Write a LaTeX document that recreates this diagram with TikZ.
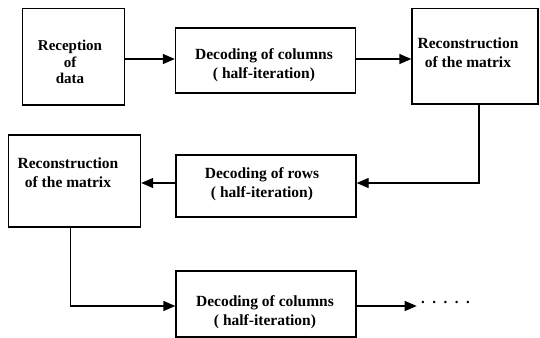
\documentclass[tikz,border=0pt]{standalone}
\usepackage{fontspec}
\setmainfont{Liberation Serif}
\usetikzlibrary{arrows.meta}
\begin{document}
\begin{tikzpicture}[x=1pt,y=-1pt,
  box/.style={draw, line width=1.4pt, inner sep=0pt},
  txt/.style={align=center, font=\bfseries\fontsize{15.5}{19}\selectfont, inner sep=0pt},
  conn/.style={line width=1.4pt, -{Triangle[length=12pt,width=10pt]}},
  wire/.style={line width=1.4pt}]
\useasboundingbox (0,0) rectangle (540,337);
% boxes
\node (b1) [box, minimum width=102pt, minimum height=96pt] at (73.7,56.8) {};
\node (b2) [box, minimum width=180pt, minimum height=65pt] at (265.5,60.5) {};
\node (b3) [box, minimum width=126pt, minimum height=95.5pt] at (475,56.2) {};
\node (b4) [box, minimum width=132pt, minimum height=92pt] at (74.5,181) {};
\node (b5) [box, minimum width=180pt, minimum height=62pt] at (266,186) {};
\node (b6) [box, minimum width=180pt, minimum height=66pt] at (266,304) {};
% texts
\node (t1) [txt, font=\bfseries\fontsize{15}{16.5}\selectfont] at (70,62) {Reception\\of\\data};
\node (t2) [txt] at (264,65) {Decoding of columns\\( half-iteration)};
\node (t3) [txt] at (468,53) {Reconstruction\\of the matrix};
\node (t4) [txt] at (68,173) {Reconstruction\\of the matrix};
\node (t5) [txt] at (262,184) {Decoding of rows\\( half-iteration)};
\node (t6) [txt] at (265,312) {Decoding of columns\\( half-iteration)};
% connectors
\coordinate (c1) at (479,183);
\coordinate (c2) at (70.6,306);
\coordinate (c3) at (416.7,306);
\draw[conn] (b1.east |- 0,59) -- (b2.west |- 0,59);
\draw[conn] (b2.east |- 0,59) -- (b3.west |- 0,59);
\draw[conn] (b3.south -| c1) -- (c1) -- (b5.east |- c1);
\draw[conn] (b5.west |- c1) -- (b4.east |- c1);
\draw[conn] (b4.south -| c2) -- (c2) -- (b6.west |- c2);
\draw[conn] (b6.east |- c3) -- (c3);
\node (dots) [anchor=west, inner sep=0pt, font=\bfseries\fontsize{15}{18}\selectfont] at (421,302) {.\hspace{7.5pt}.\hspace{7.5pt}.\hspace{7.5pt}.\hspace{7.5pt}.};
\end{tikzpicture}
\end{document}
